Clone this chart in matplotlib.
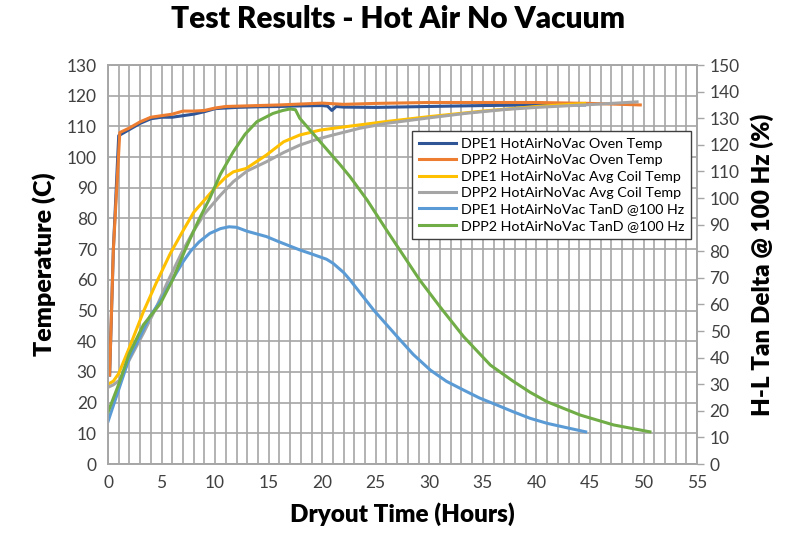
import matplotlib
matplotlib.use("Agg")
import matplotlib.pyplot as plt
from matplotlib.ticker import MultipleLocator

plt.rcParams['font.family'] = ['Lato', 'DejaVu Sans']

# Oven temperatures (left axis, C)
dpe1_oven_h = [0.15, 0.5, 1.0, 2, 3, 4, 5, 6, 7, 8, 9, 10, 11, 12, 14, 16, 18, 20,
               20.5, 20.9, 21.3, 22, 25, 30, 35, 40, 44.5]
dpe1_oven_t = [29, 70, 107, 109, 111, 112.5, 113, 113, 113.5, 114, 114.8, 115.8, 116,
               116.2, 116.4, 116.5, 116.7, 116.8, 116.6, 115.2, 116.5, 116.3, 116.2,
               116.5, 116.8, 117, 117]

dpp2_oven_h = [0.15, 0.5, 1.1, 2, 3, 4, 5, 6, 7, 8, 9, 10, 11, 12, 14, 16, 18, 20,
               22, 25, 30, 35, 40, 45, 47, 49.7]
dpp2_oven_t = [29, 70, 108, 109.5, 111.5, 113, 113.5, 114, 115, 115, 115.2, 116,
               116.5, 116.6, 116.8, 117, 117.3, 117.6, 117.2, 117.5, 117.8, 117.8,
               117.8, 117.5, 117.3, 117]

# Average coil temperatures (left axis, C)
dpe1_coil_h = [0, 0.5, 1, 2, 3.3, 4.5, 5.8, 7, 8, 9, 10, 11, 11.7, 12.9, 14.8, 16.4,
               17.9, 19.8, 21.5, 23.5, 26, 30, 35, 40, 44.5]
dpe1_coil_t = [26, 27, 29.5, 38, 49.6, 59, 68.5, 76, 82, 86, 90, 93.5, 95.2, 96.3,
               100.7, 105, 107.2, 108.8, 109.6, 110.5, 111.6, 113.2, 115, 116.5, 117.5]

dpp2_coil_h = [0, 0.5, 1.1, 2, 3.3, 4.5, 5.5, 6.9, 8, 9, 10.5, 11.7, 13, 14.8, 16.4,
               17.9, 19.5, 21, 23.5, 26, 30, 33.5, 37, 40, 44.4, 47, 49.4]
dpp2_coil_t = [25, 25.8, 27.4, 34, 42.6, 51, 58.9, 69, 76, 81.5, 87.6, 92, 95.5, 98.5,
               101.5, 103.9, 105.8, 107.2, 109.4, 111, 112.8, 114.3, 115.5, 116.2,
               117, 117.5, 118]

# H-L tan delta @ 100 Hz (right axis, %)
dpe1_tand_h = [0, 1, 2, 3, 3.9, 5, 5.8, 7, 7.7, 8.5, 9.5, 10.5, 11.3, 12, 13, 14.8,
               16, 17.9, 19, 20.4, 21, 22, 22.6, 24.8, 27, 28.5, 30.1, 31.6, 33.2,
               34.7, 36.3, 37.8, 39.4, 41, 43, 44.6]
dpe1_tand = [16, 28, 40, 48, 55.4, 62, 67.9, 76, 80, 83.5, 86.7, 88.5, 89.2, 89,
             87.5, 85.5, 83.5, 80.5, 79, 77, 75.5, 72, 69.2, 57.9, 47.9, 41.2, 35.3,
             31.1, 27.8, 24.8, 22.2, 19.7, 17.2, 15.3, 13.5, 12.1]

dpp2_tand_h = [0, 1, 2, 3.3, 4.9, 6, 7.2, 8.5, 9.5, 10.5, 11.7, 12.8, 13.9, 15.4,
               16.3, 17.0, 17.5, 17.9, 19.8, 21.7, 22.6, 24.2, 26, 29.1, 31, 33.2,
               35.7, 37.8, 39.4, 41, 44.1, 47.2, 50.6]
dpp2_tand = [19.5, 30, 41.6, 52.3, 60.4, 69, 80.5, 92, 99.9, 109, 117.4, 124,
             128.7, 131.8, 132.9, 133.5, 133.2, 130, 121.2, 112.4, 108, 99.2, 88,
             69.2, 59.1, 47.9, 37.2, 31.2, 27, 23.4, 18.4, 14.7, 12.1]

grid_col = '#a6a6a6'
text_col = '#404040'

fig = plt.figure(figsize=(7.96, 5.38), dpi=100)
ax = fig.add_axes([0.1357, 0.1375, 0.74, 0.7416])
ax2 = ax.twinx()

lw = 2.2
l1, = ax.plot(dpe1_oven_h, dpe1_oven_t, color='#2f5597', lw=lw, label='DPE1 HotAirNoVac Oven Temp')
l2, = ax.plot(dpp2_oven_h, dpp2_oven_t, color='#ed7d31', lw=lw, label='DPP2 HotAirNoVac Oven Temp')
l3, = ax.plot(dpe1_coil_h, dpe1_coil_t, color='#ffc000', lw=lw, label='DPE1 HotAirNoVac Avg Coil Temp')
l4, = ax.plot(dpp2_coil_h, dpp2_coil_t, color='#a5a5a5', lw=lw, label='DPP2 HotAirNoVac Avg Coil Temp')
l5, = ax2.plot(dpe1_tand_h, dpe1_tand, color='#5b9bd5', lw=lw, label='DPE1 HotAirNoVac TanD @100 Hz')
l6, = ax2.plot(dpp2_tand_h, dpp2_tand, color='#70ad47', lw=lw, label='DPP2 HotAirNoVac TanD @100 Hz')

ax.set_xlim(0, 55)
ax.set_ylim(0, 130)
ax2.set_ylim(0, 150)

ax.xaxis.set_major_locator(MultipleLocator(5))
ax.xaxis.set_minor_locator(MultipleLocator(1))
ax.yaxis.set_major_locator(MultipleLocator(10))
ax2.yaxis.set_major_locator(MultipleLocator(10))

ax.grid(True, which='both', axis='x', color=grid_col, lw=1.2)
ax.grid(True, which='major', axis='y', color=grid_col, lw=1.2)
ax.set_axisbelow(True)

ax.tick_params(axis='both', which='both', length=0, labelsize=12.5, colors=text_col, pad=8)
ax2.tick_params(axis='y', length=5, width=1, color=grid_col, labelsize=12.5,
                labelcolor=text_col, pad=4)

for a in (ax, ax2):
    for s in a.spines.values():
        s.set_color(grid_col)
        s.set_linewidth(1.2)

fig.suptitle('Test Results - Hot Air No Vacuum', fontsize=21.5, fontweight='heavy', y=0.99)
ax.set_xlabel('Dryout Time (Hours)', fontsize=17.5, fontweight='heavy', labelpad=8)
ax.set_ylabel('Temperature (C)', fontsize=18, fontweight='heavy', labelpad=8)
ax2.set_ylabel('H-L Tan Delta @ 100 Hz (%)', fontsize=17.5, fontweight='heavy', labelpad=8)

leg = ax2.legend(handles=[l1, l2, l3, l4, l5, l6], loc='upper left',
                 bbox_to_anchor=(0.516, 0.835), borderaxespad=0, fontsize=10.3,
                 frameon=True, fancybox=False, framealpha=1, edgecolor='#404040',
                 handlelength=2.6, handletextpad=0.3, labelspacing=0.3, borderpad=0.5)
leg.get_frame().set_linewidth(1.0)

fig.savefig('out.png', dpi=100)
